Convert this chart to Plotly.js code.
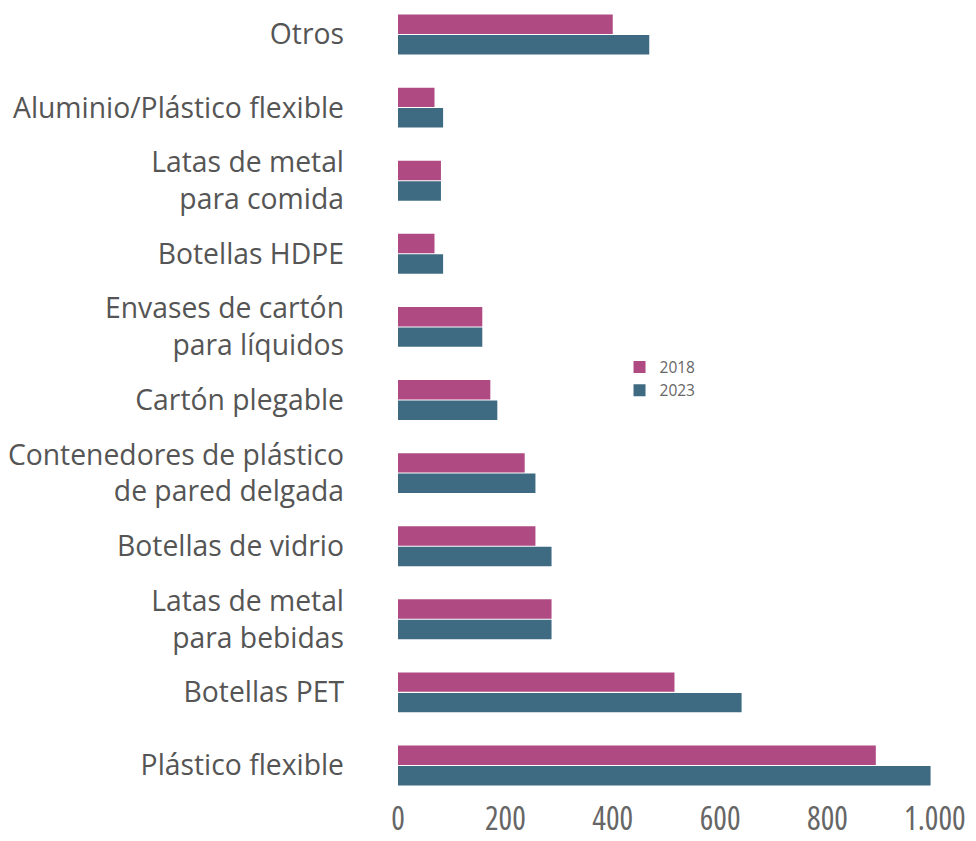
<!DOCTYPE html>
<html><head><meta charset="utf-8">
<script src="https://cdn.plot.ly/plotly-3.0.1.min.js"></script>
<style>
html,body{margin:0;padding:0;background:#fff}
.ytick text{font-stretch:90%}
.xtick text{font-stretch:80%}
.legendtext{font-stretch:92%}
</style>
</head><body>
<div id="chart" style="width:976px;height:841px"></div>
<script>
const categories = [
  "Otros",
  "Aluminio/Plástico flexible",
  "Latas de metal<br>para comida",
  "Botellas HDPE",
  "Envases de cartón<br>para líquidos",
  "Cartón plegable",
  "Contenedores de plástico<br>de pared delgada",
  "Botellas de vidrio",
  "Latas de metal<br>para bebidas",
  "Botellas PET",
  "Plástico flexible"
];
const values2018 = [400, 68, 80, 68, 157, 172, 236, 256, 286, 515, 890];
const values2023 = [468, 84, 80, 84, 157, 185, 256, 286, 286, 640, 992];
const tickVals = [0, 200, 400, 600, 800, 1000];
const tickText = ["0", "200", "400", "600", "800", "1.000"];

const FONT = "'Open Sans', sans-serif";
const LABEL_SIZE = 28.3;
const data = [
  {type:'bar', orientation:'h', name:'2018', y:categories, x:values2018,
   marker:{color:'#AF4B82'}},
  {type:'bar', orientation:'h', name:'2023', y:categories, x:values2023,
   marker:{color:'#3E6B82'}}
];
const layout = {
  width:976, height:841,
  margin:{l:398, r:10, t:0, b:40},
  paper_bgcolor:'#fff', plot_bgcolor:'#fff',
  barmode:'group', bargap:0.44, bargroupgap:0.05,
  font:{family:FONT, color:'#555', size:LABEL_SIZE},
  xaxis:{range:[0,1058], tickvals:tickVals, ticktext:tickText, showgrid:false,
         zeroline:false, showline:false, ticks:'', ticklabelstandoff:-4,
         tickfont:{size:32, color:'#666'}},
  yaxis:{range:[10.486,-0.472], showgrid:false, zeroline:false, showline:false,
         ticks:'', ticklabelstandoff:53, tickfont:{size:LABEL_SIZE, color:'#555'}},
  legend:{x:0.39, y:0.5625, xanchor:'left', yanchor:'top', bgcolor:'rgba(0,0,0,0)',
          font:{size:15.5, color:'#666'}, itemwidth:30, tracegroupgap:0},
  showlegend:true
};
Plotly.newPlot('chart', data, layout, {displayModeBar:false});
</script>
</body></html>
